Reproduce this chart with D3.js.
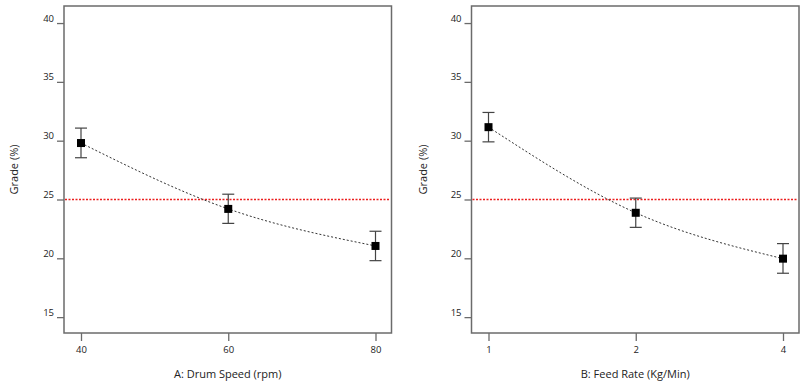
<!DOCTYPE html>
<html>
<head>
<meta charset="utf-8">
<script src="https://cdn.jsdelivr.net/npm/d3@7"></script>
<style>
  body { margin: 0; background: #fff; }
  svg { display: block; }
  text { font-family: "Open Sans", "Noto Sans", sans-serif; fill: #222; }
</style>
</head>
<body>
<div id="chart"></div>
<script>
// factor levels and effects
const drumLevels = ["40", "60", "80"];
const drumGrade = [29.8, 24.2, 21.05];
const drumLow = [28.55, 22.97, 19.8];
const drumHigh = [31.07, 25.45, 22.3];

const feedLevels = ["1", "2", "4"];
const feedGrade = [31.15, 23.87, 19.97];
const feedLow = [29.9, 22.63, 18.73];
const feedHigh = [32.4, 25.12, 21.25];

const yTicks = [15, 20, 25, 30, 35, 40];
const meanLine = 25;

const W = 803, H = 382;
const svg = d3.select("#chart").append("svg")
    .attr("width", W)
    .attr("height", H);

function drawPanel(opt) {
    const g = svg.append("g");
    const x = d3.scalePoint()
        .domain(opt.levels)
        .range([opt.left + 17, opt.right - 16]);
    const y = d3.scaleLinear()
        .domain([13.65, 41.45])
        .range([opt.bottom, opt.top]);

    const rows = opt.levels.map((l, i) => ({ lvl: l, v: opt.vals[i], lo: opt.lo[i], hi: opt.hi[i] }));

    // frame
    g.append("rect")
        .attr("x", opt.left).attr("y", opt.top)
        .attr("width", opt.right - opt.left).attr("height", opt.bottom - opt.top)
        .attr("fill", "none").attr("stroke", "#6b6b6b").attr("stroke-width", 1.5);

    // y axis
    const ya = g.append("g")
        .attr("transform", `translate(${opt.left},0)`)
        .call(d3.axisLeft(y).tickValues(yTicks).tickSize(7).tickPadding(3));
    ya.select(".domain").remove();
    ya.selectAll(".tick line").attr("stroke", "#6b6b6b").attr("stroke-width", 1.3);
    ya.selectAll(".tick text")
        .attr("font-size", 9.5)
        .attr("dy", "-0.2em")
        .style("font-family", '"Open Sans", sans-serif')
        .attr("fill", "#222");

    // x axis
    const xa = g.append("g")
        .attr("transform", `translate(0,${opt.bottom})`)
        .call(d3.axisBottom(x).tickSize(8).tickPadding(5));
    xa.select(".domain").remove();
    xa.selectAll(".tick line").attr("stroke", "#6b6b6b").attr("stroke-width", 1.3);
    xa.selectAll(".tick text")
        .attr("font-size", 9.5)
        .style("font-family", '"Open Sans", sans-serif')
        .attr("fill", "#222");

    // mean reference line (red dotted)
    const ym = Math.round(y(meanLine)) + 0.5;
    g.append("line")
        .attr("x1", opt.left + 1).attr("x2", opt.right - 1)
        .attr("y1", ym).attr("y2", ym)
        .style("stroke", "rgb(235,30,30)")
        .style("stroke-width", 1.3)
        .style("stroke-dasharray", "2,1.5");

    // effect curve
    const line = d3.line()
        .x(d => x(d.lvl))
        .y(d => y(d.v))
        .curve(d3.curveNatural);
    g.append("path")
        .datum(rows)
        .attr("d", line)
        .attr("fill", "none")
        .attr("stroke", "#333")
        .attr("stroke-width", 1)
        .attr("stroke-dasharray", "2,2");

    // error bars
    const eb = g.selectAll(".eb").data(rows).enter().append("g");
    eb.append("line")
        .attr("x1", d => x(d.lvl)).attr("x2", d => x(d.lvl))
        .attr("y1", d => y(d.lo)).attr("y2", d => y(d.hi))
        .attr("stroke", "#444").attr("stroke-width", 1.2);
    eb.append("line")
        .attr("x1", d => x(d.lvl) - 6).attr("x2", d => x(d.lvl) + 6)
        .attr("y1", d => y(d.hi)).attr("y2", d => y(d.hi))
        .attr("stroke", "#444").attr("stroke-width", 1.2);
    eb.append("line")
        .attr("x1", d => x(d.lvl) - 6).attr("x2", d => x(d.lvl) + 6)
        .attr("y1", d => y(d.lo)).attr("y2", d => y(d.lo))
        .attr("stroke", "#444").attr("stroke-width", 1.2);

    // points
    g.selectAll(".pt").data(rows).enter().append("rect")
        .attr("x", d => x(d.lvl) - 4)
        .attr("y", d => y(d.v) - 4)
        .attr("width", 8).attr("height", 8)
        .attr("fill", "#000");

    // titles
    g.append("text")
        .attr("x", (opt.left + opt.right) / 2)
        .attr("y", 378)
        .attr("text-anchor", "middle")
        .attr("font-size", 11)
        .text(opt.xlabel);
    g.append("text")
        .attr("transform", `translate(${opt.ytx},${(opt.top + opt.bottom) / 2}) rotate(-90)`)
        .attr("text-anchor", "middle")
        .attr("font-size", 11)
        .text("Grade (%)");
}

drawPanel({
    levels: drumLevels, vals: drumGrade, lo: drumLow, hi: drumHigh,
    left: 64, right: 391.5, top: 6, bottom: 333,
    xlabel: "A: Drum Speed (rpm)", ytx: 18
});
drawPanel({
    levels: feedLevels, vals: feedGrade, lo: feedLow, hi: feedHigh,
    left: 471.5, right: 799, top: 6, bottom: 333,
    xlabel: "B: Feed Rate (Kg/Min)", ytx: 427
});
</script>
</body>
</html>
